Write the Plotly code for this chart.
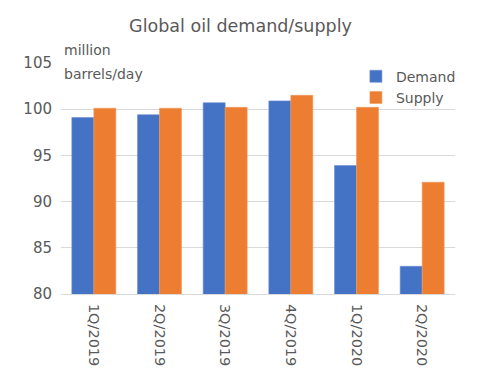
import plotly.graph_objects as go

quarters = ["1Q/2019", "2Q/2019", "3Q/2019", "4Q/2019", "1Q/2020", "2Q/2020"]
demand = [99.1, 99.4, 100.7, 100.9, 93.9, 83.0]
supply = [100.1, 100.1, 100.2, 101.5, 100.2, 92.1]
y_ticks = [80, 85, 90, 95, 100, 105]

FONT = "DejaVu Sans"
GRAY = "#595959"

fig = go.Figure()
fig.add_trace(go.Bar(x=quarters, y=demand, name="Demand",
                     marker=dict(color="#4472C4", line=dict(color="#6a8fd6", width=0.6))))
fig.add_trace(go.Bar(x=quarters, y=supply, name="Supply",
                     marker=dict(color="#ED7D31", line=dict(color="#f29a5e", width=0.6))))

fig.update_layout(
    width=481, height=378,
    margin=dict(l=61, r=26, t=63, b=84),
    paper_bgcolor="white", plot_bgcolor="white",
    font=dict(family=FONT, size=14, color=GRAY),
    title=dict(text="Global oil demand/supply", x=0.5, xanchor="center",
               y=1 - 26 / 378, yanchor="middle", font=dict(size=17.5, color=GRAY, family=FONT)),
    barmode="group", bargap=0.33, bargroupgap=0,
    showlegend=True,
    legend=dict(x=1.015, xanchor="right", y=1.01, yanchor="top",
                bgcolor="rgba(0,0,0,0)", font=dict(size=14, color=GRAY, family=FONT),
                itemwidth=30, tracegroupgap=0),
    xaxis=dict(tickangle=90, showgrid=False, showline=True, linecolor="#d9d9d9", linewidth=1,
               ticks="", tickfont=dict(size=14.5, color=GRAY), ticklabelstandoff=6),
    yaxis=dict(range=[80, 105], tickvals=y_ticks, showgrid=True, gridcolor="#d9d9d9", gridwidth=1,
               zeroline=False, showline=False, ticks="", tickfont=dict(size=15, color=GRAY),
               ticklabelstandoff=8),
)

fig.add_annotation(text="million", xref="paper", yref="paper", x=0, xanchor="left",
                   y=(294 - 50) / 231, yanchor="middle", showarrow=False, xshift=1,
                   font=dict(size=14, color=GRAY, family=FONT))
fig.add_annotation(text="barrels/day", xref="paper", yref="paper", x=0, xanchor="left",
                   y=(294 - 74) / 231, yanchor="middle", showarrow=False, xshift=1,
                   font=dict(size=14, color=GRAY, family=FONT))

fig.write_html("out.html", config={"displayModeBar": False},
               post_script="document.body.style.margin='0';")
